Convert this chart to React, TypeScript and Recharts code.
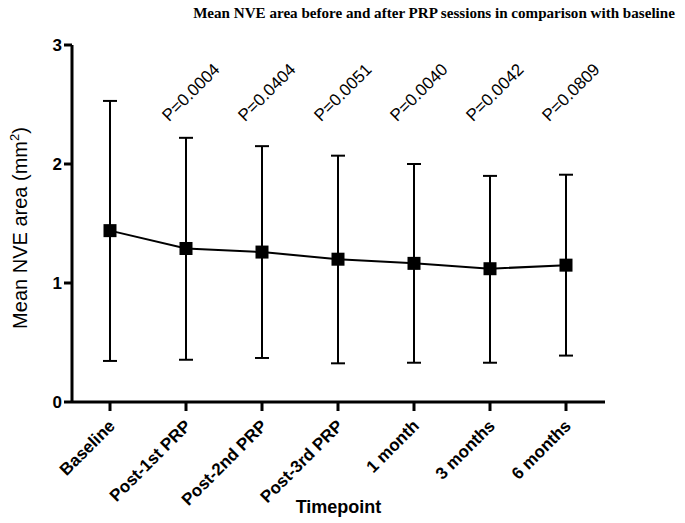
import React from 'react';
import { LineChart, Line, XAxis, YAxis, ErrorBar, ReferenceDot } from 'recharts';

const categories = ['Baseline', 'Post-1st PRP', 'Post-2nd PRP', 'Post-3rd PRP', '1 month', '3 months', '6 months'];
const meanValues = [1.44, 1.29, 1.26, 1.2, 1.165, 1.12, 1.15];
const lowerValues = [0.345, 0.355, 0.37, 0.325, 0.33, 0.33, 0.39];
const upperValues = [2.53, 2.22, 2.15, 2.07, 2.0, 1.9, 1.91];
const pValueLabels = ['', 'P=0.0004', 'P=0.0404', 'P=0.0051', 'P=0.0040', 'P=0.0042', 'P=0.0809'];
const yTicks = [0, 1, 2, 3];

const P_LABEL_Y = 2.35;
const SANS = '"Liberation Sans", Arial, sans-serif';

const data = categories.map((name, i) => ({
  name,
  mean: meanValues[i],
  err: [meanValues[i] - lowerValues[i], upperValues[i] - meanValues[i]],
}));

const XTick = (props: any) => {
  const { x, y, payload } = props;
  return (
    <g transform={`translate(${x + 6},${y + 14})`}>
      <text x={0} y={0} textAnchor="end" transform="rotate(-45)" fontFamily={SANS} fontWeight="bold" fontSize={17} fill="#000">
        {payload.value}
      </text>
    </g>
  );
};

const YTick = (props: any) => {
  const { x, y, payload } = props;
  return (
    <text x={x} y={y} dy={6} textAnchor="end" fontFamily={SANS} fontWeight="bold" fontSize={17} fill="#000">
      {payload.value}
    </text>
  );
};

const YAxisLabel = () => (
  <text x={0} y={0} transform="translate(19,220) rotate(-90)" textAnchor="middle" fontFamily={SANS} fontSize={20} fill="#000">
    Mean NVE area (mm
    <tspan fontSize={13} dy={-8}>2</tspan>
    <tspan dy={8}>)</tspan>
  </text>
);

const XAxisLabel = (props: any) => {
  const vb = props.viewBox || { x: 0, width: 0 };
  return (
    <text x={vb.x + vb.width / 2} y={505} textAnchor="middle" fontFamily={SANS} fontWeight="bold" fontSize={18} fill="#000">
      Timepoint
    </text>
  );
};

const PLabel = (props: any) => {
  const vb = props.viewBox || { x: 0, y: 0, width: 0, height: 0 };
  const cx = vb.x + (vb.width || 0) / 2 - 17;
  const cy = vb.y + (vb.height || 0) / 2;
  return (
    <text x={cx} y={cy} transform={`rotate(-45 ${cx} ${cy})`} textAnchor="start" fontFamily={SANS} fontSize={17} fill="#000">
      {props.text}
    </text>
  );
};

const SquareDot = (props: any) => {
  const { cx, cy, index } = props;
  if (cx == null || cy == null) return <g key={`d-${index}`} />;
  return <rect key={`d-${index}`} x={cx - 6.5} y={cy - 6.5} width={13} height={13} fill="#000" />;
};

export default function App() {
  return (
    <div style={{ position: 'relative', width: 677, height: 515 }}>
      <div
        style={{
          position: 'absolute',
          left: 426,
          top: -4,
          transform: 'translateX(-50%)',
          whiteSpace: 'nowrap',
          fontFamily: '"Liberation Serif", "Times New Roman", serif',
          fontWeight: 'bold',
          fontSize: 15.1,
          lineHeight: '18px',
          color: '#000',
        }}
      >
        Mean NVE area before and after PRP sessions in comparison with baseline
      </div>
      <LineChart width={677} height={515} data={data} margin={{ top: 37, right: 80, bottom: 21, left: 24 }}>
        <XAxis
          dataKey="name"
          scale="point"
          padding={{ left: 38, right: 39 }}
          height={100}
          axisLine={{ stroke: '#000', strokeWidth: 3 }}
          tickLine={{ stroke: '#000', strokeWidth: 3 }}
          tickSize={9}
          tickMargin={2}
          interval={0}
          tick={<XTick />}
          label={<XAxisLabel />}
        />
        <YAxis
          domain={[0, 3]}
          ticks={yTicks}
          width={40}
          axisLine={{ stroke: '#000', strokeWidth: 3 }}
          tickLine={{ stroke: '#000', strokeWidth: 3 }}
          tickSize={8}
          tickMargin={2}
          tick={<YTick />}
          label={<YAxisLabel />}
        />
        <Line
          dataKey="mean"
          stroke="#000"
          strokeWidth={2}
          dot={SquareDot}
          activeDot={false}
          isAnimationActive={false}
        >
          <ErrorBar dataKey="err" direction="y" width={7} stroke="#000" strokeWidth={2} isAnimationActive={false} />
        </Line>
        {categories.map((c, i) =>
          pValueLabels[i] ? (
            <ReferenceDot
              key={c}
              x={c}
              y={P_LABEL_Y}
              r={1}
              fill="none"
              stroke="none"
              label={<PLabel text={pValueLabels[i]} />}
            />
          ) : null
        )}
      </LineChart>
    </div>
  );
}
